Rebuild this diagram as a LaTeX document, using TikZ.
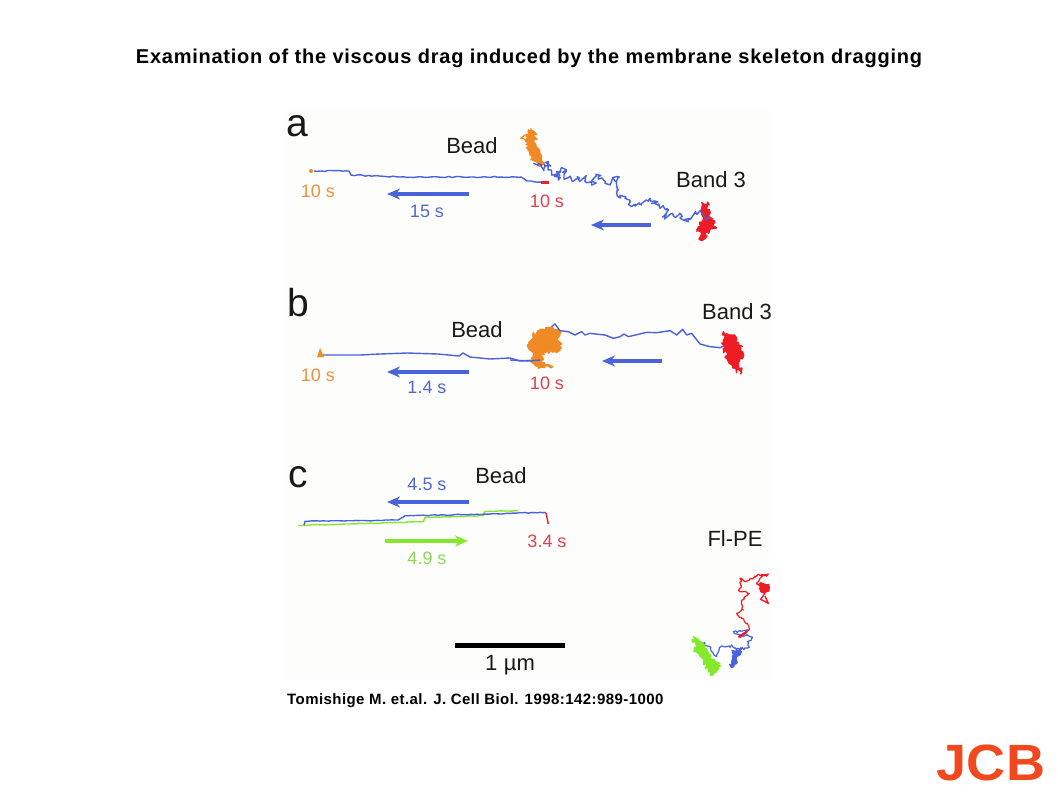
\documentclass[tikz,border=0pt]{standalone}
\usepackage{fontspec}
\setmainfont{Liberation Sans}
\usetikzlibrary{arrows.meta,decorations.pathmorphing}
\definecolor{trblue}{HTML}{4A62DC}
\definecolor{trorange}{HTML}{F08A24}
\definecolor{trred}{HTML}{EE1C25}
\definecolor{trgreen}{HTML}{84E82C}
\definecolor{lbblue}{HTML}{5068D0}
\definecolor{lborange}{HTML}{EE9040}
\definecolor{lbred}{HTML}{E2404E}
\definecolor{lbgreen}{HTML}{8CD858}
\definecolor{jcbred}{HTML}{F2481E}
\definecolor{panelbg}{HTML}{FDFDFB}
\tikzset{
  walk/.style={line width=1.4pt,line join=round,decorate,decoration={random steps,segment length=1.8pt,amplitude=3pt}},
  thinwalk/.style={line width=1.2pt,line join=round,decorate,decoration={random steps,segment length=2pt,amplitude=1.4pt}},
  flatwalk/.style={line width=1.4pt,line join=round,decorate,decoration={random steps,segment length=3.5pt,amplitude=.6pt}},
  stepwalk/.style={line width=1.4pt,line join=round,decorate,decoration={random steps,segment length=3pt,amplitude=.4pt}},
  smoothwalk/.style={line width=1.4pt,line join=round},
  blob/.style={draw,fill,line width=1.2pt,line join=round,decorate,decoration={random steps,segment length=1.8pt,amplitude=2.6pt}},
  moveline/.style={line width=3.2pt,-{Stealth[length=13pt,width=11pt]}},
  panellabel/.style={font=\fontsize{39}{39}\selectfont,text=black!90},
  molname/.style={font=\fontsize{22}{22}\selectfont,text=black!90},
  timelabel/.style={font=\fontsize{18}{18}\selectfont},
}
\begin{document}
\begin{tikzpicture}[x=1pt,y=-1pt]
\pgfmathsetseed{42}
\useasboundingbox (0,0) rectangle (1058,793);
\fill[white] (0,0) rectangle (1058,793);
\fill[panelbg] (287,108) rectangle (770,680);
\node[font=\addfontfeature{LetterSpace=3.8}\bfseries\fontsize{20}{20}\selectfont] (title) at (529,58.5) {Examination of the viscous drag induced by the membrane skeleton dragging};
\node[font=\addfontfeature{LetterSpace=2.9}\bfseries\fontsize{15}{15}\selectfont,anchor=west,inner sep=0pt] (cite) at (287,701) {Tomishige M. et.al. J. Cell Biol. 1998:142:989-1000};
\node[font=\bfseries\fontsize{51}{51}\selectfont,text=jcbred,inner sep=0pt,xscale=1.06] (logo) at (991,762.5) {JCB};

% panel a
\node[panellabel] (labela) at (297,126) {a};
\node[molname] (beada) at (472,146) {Bead};
\node[molname] (banda) at (711,180) {Band 3};
\node[timelabel,text=lborange] (ta1) at (318,191) {10 s};
\node[timelabel,text=lbblue] (ta2) at (427,211) {15 s};
\node[timelabel,text=lbred] (ta3) at (547,201) {10 s};
\draw[trblue,moveline] (469,194)--(387,194);
\draw[trblue,moveline] (651,225)--(591,225);
\fill[trorange] (311,171) circle (2pt);
\draw[trblue,flatwalk] (314,171)--(349,171)--(351,175)--(400,177)--(470,177)--(521,177)--(527,181)--(545,182);
\fill[trred] (541,181) rectangle (549,184);
\begin{scope}[shift={(510,110)},scale=.3333]
\draw[trorange,thinwalk] (62,55)--(78,70)--(50,75)--(32,85)--(50,95);
\path[trorange,blob] (55,62)--(78,72)--(78,105)--(90,130)--(102,158)--(85,168)--(62,150)--(52,115)--(52,85)--cycle;
\draw[trblue,walk] (70,160)--(95,165)--(100,180)--(115,155)--(125,185)--(145,210)--(140,185)--(160,175)--(170,205)--(195,210)--(225,205)--(245,225)--(265,195)--(285,220)--(300,225)--(320,200)--(325,240)--(320,250)--(345,265)--(365,290)--(395,285)--(420,265)--(450,295)--(470,295)--(460,320)--(510,310)--(520,330)--(545,325)--(570,300);
\path[trred,blob] (575,278)--(598,285)--(596,318)--(615,350)--(592,365)--(575,392)--(565,350)--(578,320)--cycle;
\draw[trblue,thinwalk] (570,300)--(590,330)--(600,325);
\end{scope}

% panel b
\node[panellabel] (labelb) at (298,303) {b};
\node[molname] (beadb) at (477,330) {Bead};
\node[molname] (bandb) at (737,312) {Band 3};
\node[timelabel,text=lborange] (tb1) at (318,375) {10 s};
\node[timelabel,text=lbblue] (tb2) at (427,387) {1.4 s};
\node[timelabel,text=lbred] (tb3) at (547,383) {10 s};
\draw[trblue,moveline] (469,372)--(387,372);
\draw[trblue,moveline] (662,361)--(602,361);
\fill[trorange] (320,348)--(324,357)--(317,357)--cycle;
\draw[trblue,smoothwalk] (323,355)--(360,355)--(380,354)--(407,353)--(438,354)--(459,356)--(463,353)--(470,357)--(490,359)--(510,358)--(520,361)--(537,360);
\begin{scope}[shift={(510,290)},scale=.3333]
\path[trorange,blob] (108,112)--(145,120)--(150,182)--(125,185)--(95,190)--(95,212)--(128,230)--(78,228)--(66,212)--(72,190)--(56,175)--(68,135)--cycle;
\draw[trblue,smoothwalk] (0,210)--(60,213)--(90,210);
\draw[trblue,smoothwalk] (125,110)--(135,102)--(150,122)--(175,125)--(195,135)--(215,125)--(225,135)--(240,130)--(265,133)--(285,135)--(310,145)--(330,140)--(342,132)--(355,140)--(385,133)--(410,127)--(440,128)--(480,122)--(500,135)--(518,118)--(530,135)--(545,130)--(570,162)--(600,170)--(630,173)--(650,165);
\path[trred,blob] (640,125)--(672,135)--(698,185)--(688,215)--(692,250)--(665,225)--(640,175)--cycle;
\end{scope}

% panel c
\node[panellabel] (labelc) at (298,477) {c};
\node[molname] (beadc) at (501,476) {Bead};
\node[molname] (flpe) at (735,539) {Fl-PE};
\node[timelabel,text=lbblue] (tc1) at (427,484) {4.5 s};
\node[timelabel,text=lbgreen] (tc2) at (427,558) {4.9 s};
\node[timelabel,text=lbred] (tc3) at (547,541) {3.4 s};
\draw[trblue,moveline] (469,502)--(387,502);
\draw[trgreen,moveline] (385,541)--(468,541);
\begin{scope}[shift={(280,450)},scale=.3333]
\draw[trgreen,stepwalk] (55,226)--(210,222)--(365,217)--(430,215)--(435,203)--(610,197)--(613,185)--(715,182);
\draw[trblue,stepwalk] (72,225)--(75,214)--(235,212)--(355,210)--(375,197)--(610,193)--(780,187)--(798,188);
\draw[trred,smoothwalk] (798,188)--(805,222);
\end{scope}
\fill[black] (455,642.5) rectangle (565,647.5);
\node[molname] (scale) at (510,665) {1\hspace{.3em}µm};
\begin{scope}[shift={(660,560)},scale=.3333]
\draw[trred,thinwalk] (305,80)--(290,72)--(300,55)--(325,42)--(285,48)--(255,65)--(240,55)--(245,80)--(235,90)--(268,100)--(245,125)--(250,150)--(230,160)--(245,175)--(262,190)--(268,208)--(235,232);
\path[trred,blob] (298,72)--(325,80)--(320,95)--(302,90)--cycle;
\draw[trred,smoothwalk] (315,100)--(302,118)--(325,130)--(315,108);
\draw[trblue,thinwalk] (262,208)--(220,215)--(245,225)--(278,232)--(262,245)--(268,262)--(240,268)--(215,255)--(210,262)--(185,258)--(170,290)--(155,275)--(150,260)--(130,250)--(122,290);
\path[trblue,blob] (225,264)--(245,268)--(230,290)--(222,320)--(212,320)--(220,290)--cycle;
\fill[trred] (235,228)--(265,208)--(262,218)--(240,235)--cycle;
\path[trgreen,blob] (100,230)--(115,238)--(135,272)--(165,298)--(182,318)--(160,345)--(145,328)--(132,298)--(104,268)--cycle;
\end{scope}
\end{tikzpicture}
\end{document}
